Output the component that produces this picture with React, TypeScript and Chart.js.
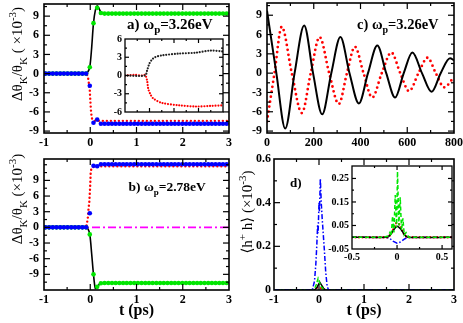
import React, { useEffect, useRef } from "react";
import { Chart, registerables } from "chart.js";
Chart.register(...registerables);

const FONT = "'Liberation Serif', 'DejaVu Serif', 'Times New Roman', serif";

// ---------- shared time grid for panels a/b symbols (ps) ----------
const tGrid = [-0.97, -0.89, -0.81, -0.73, -0.65, -0.57, -0.49, -0.41, -0.33, -0.25, -0.17, -0.09, -0.01, 0.07, 0.15, 0.23, 0.31, 0.39, 0.47, 0.55, 0.63, 0.71, 0.79, 0.87, 0.95, 1.03, 1.11, 1.19, 1.27, 1.35, 1.43, 1.51, 1.59, 1.67, 1.75, 1.83, 1.91, 1.99, 2.07, 2.15, 2.23, 2.31, 2.39, 2.47, 2.55, 2.63, 2.71, 2.79, 2.87, 2.95];

// ---------- panel a ----------
const greenA = [0, 0, 0, 0, 0, 0, 0, 0, 0, 0, 0, 0, 1.0, 7.9, 10.3, 9.5,
  9.4, 9.4, 9.4, 9.4, 9.4, 9.4, 9.4, 9.4, 9.4, 9.4, 9.4, 9.4, 9.4, 9.4, 9.4, 9.4, 9.4, 9.4, 9.4, 9.4,
  9.4, 9.4, 9.4, 9.4, 9.4, 9.4, 9.4, 9.4, 9.4, 9.4, 9.4, 9.4, 9.4, 9.4];
const blueA = [0, 0, 0, 0, 0, 0, 0, 0, 0, 0, 0, 0, -1.9, -7.7, -7.2, -7.85,
  -7.85, -7.85, -7.85, -7.85, -7.85, -7.85, -7.85, -7.85, -7.85, -7.85, -7.85, -7.85, -7.85, -7.85, -7.85, -7.85, -7.85, -7.85, -7.85, -7.85,
  -7.85, -7.85, -7.85, -7.85, -7.85, -7.85, -7.85, -7.85, -7.85, -7.85, -7.85, -7.85, -7.85, -7.85];
const redAx = [-1, -0.08, -0.05, -0.03, -0.01, 0.0, 0.01, 0.02, 0.04, 0.08, 0.2, 3];
const redAy = [0, 0, -0.5, -1.5, -2.6, -4.0, -5.2, -6.2, -7.1, -7.4, -7.4, -7.4];
const blackAx = [-1, -0.1, -0.05, -0.01, 0.03, 0.07, 0.11, 0.15, 0.19, 0.23, 0.28, 3];
const blackAy = [0, 0, 0.3, 1.0, 4.0, 7.9, 9.9, 10.6, 10.2, 9.6, 9.4, 9.4];

// inset of panel a
const insBlackX = [-1, -0.18, -0.1, 0.0, 0.1, 0.22, 0.5, 1.2, 1.9, 2.5, 3];
const insBlackY = [0, 0, 0.8, 2.0, 2.6, 3.0, 3.3, 3.6, 3.75, 4.1, 3.95];
const insRedX = [-1, -0.6, -0.3, -0.18, -0.1, -0.05, 0.05, 0.16, 0.5, 1.2, 1.9, 2.5, 3];
const insRedY = [0, 0.1, 0.0, 0.1, -0.8, -2.2, -3.2, -3.8, -4.5, -4.9, -5.1, -5.0, -4.9];

// ---------- panel b ----------
const greenB = [0, 0, 0, 0, 0, 0, 0, 0, 0, 0, 0, 0, -1.35, -9.0, -11.4, -10.7,
  -10.65, -10.65, -10.65, -10.65, -10.65, -10.65, -10.65, -10.65, -10.65, -10.65, -10.65, -10.65, -10.65, -10.65, -10.65, -10.65, -10.65, -10.65, -10.65, -10.65,
  -10.65, -10.65, -10.65, -10.65, -10.65, -10.65, -10.65, -10.65, -10.65, -10.65, -10.65, -10.65, -10.65, -10.65];
const blueB = [0, 0, 0, 0, 0, 0, 0, 0, 0, 0, 0, 0, 2.7, 11.8, 11.7, 12.1,
  12.1, 12.1, 12.1, 12.1, 12.1, 12.1, 12.1, 12.1, 12.1, 12.1, 12.1, 12.1, 12.1, 12.1, 12.1, 12.1, 12.1, 12.1, 12.1, 12.1,
  12.1, 12.1, 12.1, 12.1, 12.1, 12.1, 12.1, 12.1, 12.1, 12.1, 12.1, 12.1, 12.1, 12.1];
const redBx = [-1, -0.09, -0.07, -0.05, -0.04, -0.02, -0.01, 0.0, 0.005, 0.01, 0.03, 0.1, 3];
const redBy = [0, 0, 0.8, 2.0, 3.3, 4.9, 6.5, 8.2, 9.4, 10.7, 11.4, 11.7, 11.7];
const blackBx = [-1, -0.1, -0.05, -0.01, 0.03, 0.07, 0.11, 0.15, 0.2, 0.26, 3];
const blackBy = [0, 0, -0.3, -1.35, -5.0, -9.0, -11.7, -11.4, -10.9, -10.65, -10.65];
const magBx = [-1, 3];
const magBy = [0, 0];

// ---------- panel c (time in fs) ----------
const blackCt = [0, 40, 78, 118, 159, 197, 236, 275, 314, 353, 393, 432, 472, 510, 548, 585, 622, 663, 704, 743, 783, 800];
const blackCy = [9.7, 0, -8.6, 0, 7.4, 0, -6.4, 0, 5.6, 0, -4.7, 0, 4.3, 0, -3.8, 0, 3.2, 0, -2.9, 0, 2.3, 2.0];
const redCt = [0, 32, 63, 106, 149, 187, 225, 266, 307, 342, 376, 413, 450, 491, 532, 570, 608, 648, 687, 722, 758, 800];
const redCy = [-7.5, 0, 7.2, 0, -6.2, 0, 5.6, 0, -4.8, 0, 4.1, 0, -3.8, 0, 3.2, 0, -2.8, 0, 2.4, 0, -2.2, -0.6];

// ---------- panel d ----------
const blueDx = [-1, -0.15, -0.1, -0.07, -0.05, -0.03, -0.02, 0, 0.01, 0.03, 0.05, 0.07, 0.09, 0.12, 0.15, 0.18, 0.21, 3];
const blueDy = [0, 0, 0.04, 0.12, 0.2, 0.3, 0.26, 0.4, 0.36, 0.51, 0.4, 0.33, 0.27, 0.18, 0.08, 0.02, 0, 0];
const greenDx = [-1, -0.15, -0.1, -0.06, -0.02, 0.02, 0.06, 0.1, 0.15, 3];
const greenDy = [0, 0, 0.005, 0.025, 0.053, 0.03, 0.012, 0.004, 0, 0];
const blackDx = [-1, -0.1, -0.05, 0, 0.02, 0.05, 0.1, 0.15, 3];
const blackDy = [0, 0, 0.01, 0.03, 0.035, 0.025, 0.008, 0, 0];
const redDx = [-1, -0.1, -0.05, 0, 0.05, 0.1, 3];
const redDy = [0, 0, 0.01, 0.012, 0.008, 0, 0];

// inset of panel d
const insGreenX = [-0.5, -0.15, -0.1, -0.08, -0.065, -0.05, -0.035, -0.02, -0.005, 0.005, 0.02, 0.035, 0.05, 0.065, 0.08, 0.1, 0.13, 0.61];
const insGreenY = [0, 0, 0.005, 0.02, 0.005, 0.09, 0.02, 0.18, 0.04, 0.28, 0.05, 0.17, 0.03, 0.08, 0.01, 0.02, 0, 0];
const insBlackDX = [-0.5, -0.12, -0.08, -0.04, 0, 0.04, 0.08, 0.12, 0.61];
const insBlackDY = [0, 0, 0.008, 0.03, 0.047, 0.035, 0.012, 0, 0];
const insRedDX = [-0.5, -0.1, -0.07, -0.04, -0.01, 0.02, 0.05, 0.08, 0.11, 0.61];
const insRedDY = [0, 0, 0.012, 0.035, 0.06, 0.058, 0.035, 0.012, 0, 0];
const insBlueDX = [-0.5, -0.12, -0.08, -0.04, 0, 0.04, 0.08, 0.12, 0.61];
const insBlueDY = [0, 0, -0.005, -0.018, -0.025, -0.02, -0.008, 0, 0];

// ---------- tick labels ----------
const xTicksPs = [-1, 0, 1, 2, 3];
const xMinorPs = [-0.5, 0.5, 1.5, 2.5];
const yTicksTheta = [-9, -6, -3, 0, 3, 6, 9];
const yMinorA = [-7.5, -4.5, -1.5, 1.5, 4.5, 7.5, 10.5];
const yMinorB = [-10.5, -7.5, -4.5, -1.5, 1.5, 4.5, 7.5, 10.5, 12];
const xTicksFs = [0, 200, 400, 600, 800];
const xMinorFs = [100, 300, 500, 700];
const yTicksD = [0, 0.2, 0.4, 0.6];
const yMinorD = [0.1, 0.3, 0.5];
const yTicksInsA = [-6, -3, 0, 3, 6];
const yMinorInsA = [-4.5, -1.5, 1.5, 4.5];
const xTicksInsD = [-0.5, 0, 0.5];
const xMinorInsD = [-0.25, 0.25];
const yTicksInsD = [-0.05, 0.05, 0.15, 0.25];
const yMinorInsD = [0, 0.1, 0.2];

const GREEN = "#00e600";
const BLUE = "#0000ff";
const RED = "#ff0000";
const MAGENTA = "#ff00ff";

type Seg = { t: string; s?: "sub" | "sup" };
type Txt = { x: number; y: number; segs: Seg[]; size: number; bold?: boolean; rot?: boolean; center?: boolean };
type Deco = {
  bg?: boolean; xMaj: number[]; xMin: number[]; yMaj: number[]; yMin: number[];
  lMaj: number; lMin: number; fw: number; texts: Txt[];
};

function drawRich(c: CanvasRenderingContext2D, t: Txt) {
  const w = t.bold ? "bold " : "";
  const main = `${w}${t.size}px ${FONT}`;
  const small = `${w}${Math.round(t.size * 0.7)}px ${FONT}`;
  let total = 0;
  const widths = t.segs.map((s) => {
    c.font = s.s ? small : main;
    const m = c.measureText(s.t).width;
    total += m;
    return m;
  });
  c.save();
  c.translate(t.x, t.y);
  if (t.rot) c.rotate(-Math.PI / 2);
  let x = t.center ? -total / 2 : 0;
  c.textBaseline = "alphabetic";
  c.textAlign = "left";
  c.fillStyle = "#000";
  t.segs.forEach((s, i) => {
    c.font = s.s ? small : main;
    const dy = s.s === "sub" ? t.size * 0.3 : s.s === "sup" ? -t.size * 0.42 : 0;
    c.fillText(s.t, x, dy);
    x += widths[i];
  });
  c.restore();
}

function makeDeco(o: Deco) {
  return {
    id: "deco",
    beforeDatasetsDraw(chart: any) {
      if (!o.bg) return;
      const a = chart.chartArea, c = chart.ctx;
      c.save();
      c.fillStyle = "#fff";
      c.fillRect(a.left, a.top, a.right - a.left, a.bottom - a.top);
      c.restore();
    },
    afterDraw(chart: any) {
      const a = chart.chartArea, c: CanvasRenderingContext2D = chart.ctx;
      const sx = chart.scales.x, sy = chart.scales.y;
      c.save();
      c.strokeStyle = "#000";
      c.lineWidth = 1.2;
      const seg = (x1: number, y1: number, x2: number, y2: number) => {
        c.beginPath(); c.moveTo(x1, y1); c.lineTo(x2, y2); c.stroke();
      };
      const xs = (vals: number[], len: number) => vals.forEach((v) => {
        const p = sx.getPixelForValue(v);
        if (p < a.left + 1 || p > a.right - 1) return;
        seg(p, a.bottom, p, a.bottom - len); seg(p, a.top, p, a.top + len);
      });
      const ys = (vals: number[], len: number) => vals.forEach((v) => {
        const p = sy.getPixelForValue(v);
        if (p < a.top + 1 || p > a.bottom - 1) return;
        seg(a.left, p, a.left + len, p); seg(a.right, p, a.right - len, p);
      });
      xs(o.xMaj, o.lMaj); xs(o.xMin, o.lMin); ys(o.yMaj, o.lMaj); ys(o.yMin, o.lMin);
      c.lineWidth = o.fw;
      c.strokeRect(a.left, a.top, a.right - a.left, a.bottom - a.top);
      o.texts.forEach((t) => drawRich(c, t));
      c.restore();
    },
  };
}

type Ax = { min: number; max: number; labels: number[]; show: boolean; fs: number; pad: number };
type Spec = { pad: { left: number; right: number; top: number; bottom: number }; yW: number; xH: number; x: Ax; y: Ax; datasets: any[]; deco: Deco };

function axis(a: Ax, size: number, isX: boolean) {
  return {
    type: "linear", min: a.min, max: a.max,
    grid: { display: false, drawTicks: false }, border: { display: false },
    ticks: {
      display: a.show, autoSkip: false, maxRotation: 0, minRotation: 0, padding: a.pad, color: "#000",
      font: { family: FONT, size: a.fs, weight: "bold" },
      callback: (v: number) => String(v),
    },
    afterBuildTicks: (s: any) => { s.ticks = a.labels.map((v) => ({ value: v })); },
    afterFit: (s: any) => {
      if (isX) s.height = size; else s.width = size;
      s.paddingLeft = 0; s.paddingRight = 0; s.paddingTop = 0; s.paddingBottom = 0;
    },
  };
}

function line(xs: number[], ys: number[], extra: any) {
  return { data: xs.map((x, i) => ({ x, y: ys[i] })), showLine: true, pointRadius: 0, fill: false, ...extra };
}
function pts(xs: number[], ys: number[], color: string, r: number, extra: any) {
  return {
    data: xs.map((x, i) => ({ x, y: ys[i] })), showLine: false, pointRadius: r,
    pointBackgroundColor: color, pointBorderColor: color, pointBorderWidth: 0, ...extra,
  };
}
const dots = (color: string, w: number, gap: number) => ({
  borderColor: color, borderWidth: w, borderDash: [0, gap], borderCapStyle: "round",
});

function build(s: Spec) {
  return {
    type: "scatter",
    data: { datasets: s.datasets },
    options: {
      animation: false, responsive: false, events: [],
      layout: { padding: s.pad },
      plugins: { legend: { display: false }, tooltip: { enabled: false } },
      scales: { x: axis(s.x, s.xH, true), y: axis(s.y, s.yW, false) },
    },
    plugins: [makeDeco(s.deco)],
  } as any;
}

const thetaTitle = (x: number, y: number, spaced: boolean): Txt => ({
  x, y, size: 15, rot: true, center: true,
  segs: [{ t: "Δθ" }, { t: "K", s: "sub" }, { t: "/θ" }, { t: "K", s: "sub" }, { t: spaced ? " ( ×10" : " (×10" }, { t: "-3", s: "sup" }, { t: ")" }],
});

const specs: Spec[] = [
  // panel a
  {
    pad: { left: 0, top: 3, right: 234, bottom: 173 }, yW: 44, xH: 17,
    x: { min: -1, max: 3, labels: xTicksPs, show: true, fs: 12, pad: 3 },
    y: { min: -9.3, max: 10.9, labels: yTicksTheta, show: true, fs: 12, pad: 5 },
    datasets: [
      pts(tGrid, blueA, BLUE, 2.3, { order: 0 }),
      pts(tGrid, greenA, GREEN, 2.3, { order: 1 }),
      line(redAx, redAy, { ...dots(RED, 2.4, 4), order: 2 }),
      line(blackAx, blackAy, { borderColor: "#000", borderWidth: 1.6, tension: 0.3, order: 3 }),
    ],
    deco: {
      xMaj: xTicksPs, xMin: xMinorPs, yMaj: yTicksTheta, yMin: yMinorA, lMaj: 6, lMin: 3, fw: 1.6,
      texts: [
        thetaTitle(22, 54, true),
        { x: 127, y: 28.5, size: 15, bold: true, segs: [{ t: "a) ω" }, { t: "p", s: "sub" }, { t: "=3.26eV" }] },
      ],
    },
  },
  // panel b
  {
    pad: { left: 0, top: 159, right: 234, bottom: 16 }, yW: 44, xH: 17,
    x: { min: -1, max: 3, labels: xTicksPs, show: true, fs: 12, pad: 3 },
    y: { min: -12, max: 13.1, labels: yTicksTheta, show: true, fs: 12, pad: 5 },
    datasets: [
      pts(tGrid, blueB, BLUE, 2.3, { order: 0 }),
      pts(tGrid, greenB, GREEN, 2.3, { order: 1 }),
      line(redBx, redBy, { ...dots(RED, 2.4, 4), order: 2 }),
      line(blackBx, blackBy, { borderColor: "#000", borderWidth: 1.6, tension: 0.3, order: 3 }),
      line(magBx, magBy, { borderColor: MAGENTA, borderWidth: 1.7, borderDash: [8, 3, 2, 3], order: 4 }),
    ],
    deco: {
      xMaj: xTicksPs, xMin: xMinorPs, yMaj: yTicksTheta, yMin: yMinorB, lMaj: 6, lMin: 3, fw: 1.6,
      texts: [
        thetaTitle(22, 199, false),
        { x: 128.5, y: 190.5, size: 13.5, bold: true, segs: [{ t: "b) ω" }, { t: "p", s: "sub" }, { t: "=2.78eV" }] },
        { x: 136.5, y: 315, size: 16, bold: true, center: true, segs: [{ t: "t (ps)" }] },
      ],
    },
  },
  // panel c
  {
    pad: { left: 237, top: 3, right: 9, bottom: 173 }, yW: 30, xH: 17,
    x: { min: 0, max: 800, labels: xTicksFs, show: true, fs: 12, pad: 3 },
    y: { min: -9.3, max: 10.9, labels: yTicksTheta, show: true, fs: 12, pad: 5 },
    datasets: [
      line(blackCt, blackCy, { borderColor: "#000", borderWidth: 2, cubicInterpolationMode: "monotone", order: 0 }),
      line(redCt, redCy, { ...dots(RED, 2.8, 5), cubicInterpolationMode: "monotone", order: 1 }),
    ],
    deco: {
      xMaj: xTicksFs, xMin: xMinorFs, yMaj: yTicksTheta, yMin: yMinorA, lMaj: 6, lMin: 3, fw: 1.6,
      texts: [
        { x: 357, y: 29, size: 14.5, bold: true, segs: [{ t: "c) ω" }, { t: "p", s: "sub" }, { t: "=3.26eV" }] },
      ],
    },
  },
  // panel d
  {
    pad: { left: 244, top: 159, right: 9, bottom: 16 }, yW: 30, xH: 17,
    x: { min: -1, max: 3, labels: xTicksPs, show: true, fs: 12, pad: 3 },
    y: { min: 0, max: 0.6, labels: yTicksD, show: true, fs: 12, pad: 3 },
    datasets: [
      line(blueDx, blueDy, { borderColor: BLUE, borderWidth: 1.5, borderDash: [5, 2, 1.5, 2], order: 0 }),
      line(greenDx, greenDy, { borderColor: GREEN, borderWidth: 1.5, borderDash: [4, 2], order: 1 }),
      line(blackDx, blackDy, { borderColor: "#000", borderWidth: 1.5, order: 2 }),
      line(redDx, redDy, { ...dots(RED, 2.2, 4), order: 3 }),
    ],
    deco: {
      xMaj: xTicksPs, xMin: xMinorPs, yMaj: yTicksD, yMin: yMinorD, lMaj: 6, lMin: 3, fw: 1.6,
      texts: [
        { x: 252, y: 212, size: 15, rot: true, center: true, segs: [{ t: "⟨h" }, { t: "+", s: "sup" }, { t: " h⟩ (×10" }, { t: "-3", s: "sup" }, { t: ")" }] },
        { x: 290, y: 187, size: 13, bold: true, segs: [{ t: "d)" }] },
        { x: 364, y: 315, size: 16, bold: true, center: true, segs: [{ t: "t (ps)" }] },
      ],
    },
  },
  // inset of a
  {
    pad: { left: 105, top: 39, right: 240, bottom: 209 }, yW: 20, xH: 2,
    x: { min: -1, max: 3, labels: [], show: false, fs: 10, pad: 2 },
    y: { min: -6, max: 6, labels: yTicksInsA, show: true, fs: 10, pad: 3 },
    datasets: [
      line(insBlackX, insBlackY, { ...dots("#222", 2.2, 2.8), tension: 0.3, order: 0 }),
      line(insRedX, insRedY, { ...dots(RED, 2.2, 2.8), tension: 0.3, order: 1 }),
    ],
    deco: { bg: true, xMaj: [0, 1, 2], xMin: [-0.5, 0.5, 1.5, 2.5], yMaj: yTicksInsA, yMin: yMinorInsA, lMaj: 4, lMin: 2, fw: 1.3, texts: [] },
  },
  // inset of d
  {
    pad: { left: 322, top: 166, right: 11, bottom: 60 }, yW: 30, xH: 14,
    x: { min: -0.5, max: 0.61, labels: xTicksInsD, show: true, fs: 10, pad: 2 },
    y: { min: -0.05, max: 0.303, labels: yTicksInsD, show: true, fs: 10, pad: 3 },
    datasets: [
      line(insGreenX, insGreenY, { borderColor: GREEN, borderWidth: 1.5, borderDash: [4, 2.5], order: 0 }),
      line(insBlackDX, insBlackDY, { borderColor: "#000", borderWidth: 1.5, tension: 0.3, order: 1 }),
      line(insRedDX, insRedDY, { ...dots(RED, 2.4, 3.5), order: 2 }),
      line(insBlueDX, insBlueDY, { borderColor: BLUE, borderWidth: 1.5, borderDash: [5, 2, 1.5, 2], order: 3 }),
    ],
    deco: { bg: true, xMaj: xTicksInsD, xMin: xMinorInsD, yMaj: yTicksInsD, yMin: yMinorInsD, lMaj: 4, lMin: 2, fw: 1.3, texts: [] },
  },
];

export default function App() {
  const r0 = useRef<HTMLCanvasElement>(null);
  const r1 = useRef<HTMLCanvasElement>(null);
  const r2 = useRef<HTMLCanvasElement>(null);
  const r3 = useRef<HTMLCanvasElement>(null);
  const r4 = useRef<HTMLCanvasElement>(null);
  const r5 = useRef<HTMLCanvasElement>(null);
  const refs = [r0, r1, r2, r3, r4, r5];
  useEffect(() => {
    const charts = specs.map((s, i) => new Chart(refs[i].current as HTMLCanvasElement, build(s)));
    return () => charts.forEach((c) => c.destroy());
  }, []);
  return (
    <div style={{ position: "fixed", left: 0, top: 0, width: 463, height: 323, background: "#fff" }}>
      {refs.map((r, i) => (
        <canvas key={i} ref={r} width={463} height={323}
          style={{ position: "absolute", left: 0, top: 0, width: 463, height: 323 }} />
      ))}
    </div>
  );
}
